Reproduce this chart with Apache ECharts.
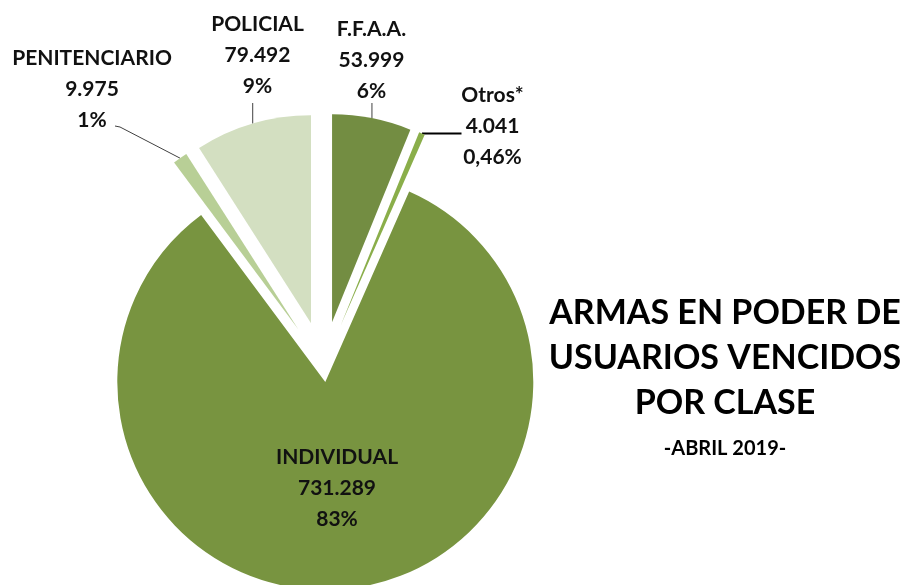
<!DOCTYPE html>
<html>
<head>
<meta charset="utf-8">
<script src="https://cdn.jsdelivr.net/npm/echarts@6/dist/echarts.min.js"></script>
<style>
  html, body { margin: 0; padding: 0; background: #fff; }
  #chart { width: 903px; height: 585px; }
</style>
</head>
<body>
<div id="chart"></div>
<script>
// datos (orden horario desde las 12)
const categories = ['F.F.A.A.', 'Otros*', 'INDIVIDUAL', 'PENITENCIARIO', 'POLICIAL'];
const values = [53999, 4041, 731289, 9975, 79492];
const pctDigits = [0, 2, 0, 0, 0];

// estilo
const sliceColors = ['#738d42', '#8aae4a', '#789440', '#b8cf96', '#d3dfc1'];
const CENTER = [323.5, 366];
const RADIUS = 208;
const BIG_OFFSET = 16;
const SMALL_OFFSET = 44.5;
const labelPos = {
  'F.F.A.A.': [371.5, 60],
  'Otros*': [492.5, 126],
  'INDIVIDUAL': [337, 488],
  'PENITENCIARIO': [92, 89],
  'POLICIAL': [257.5, 55]
};

const total = values.reduce((a, b) => a + b, 0);
const fmtNum = v => String(v).replace(/\B(?=(\d{3})+(?!\d))/g, '.');
const fmtPct = i => (values[i] / total * 100).toFixed(pctDigits[i]).replace('.', ',') + '%';

// angulo medio de cada porcion (grados, horario desde las 12)
const midAngles = [];
let acc = 0;
values.forEach(v => { midAngles.push((acc + v / 2) / total * 360); acc += v; });

function arcMid(i) {
  const a = midAngles[i] * Math.PI / 180;
  const off = categories[i] === 'INDIVIDUAL' ? BIG_OFFSET : SMALL_OFFSET;
  const r = RADIUS + off;
  return [CENTER[0] + r * Math.sin(a), CENTER[1] - r * Math.cos(a)];
}

function leaderPoints(i, lx, ly) {
  const p = arcMid(i);
  const name = categories[i];
  if (name === 'POLICIAL') return [p, [p[0], ly + 48]];
  if (name === 'F.F.A.A.') return [p, [p[0], ly + 43]];
  if (name === 'PENITENCIARIO') return [p, [lx + 28, ly + 38], [lx + 23, ly + 37]];
  if (name === 'Otros*') return [p, [lx - 31, p[1]]];
  return null;
}

function buildData(mode) {
  return categories.map((name, i) => {
    const isBig = name === 'INDIVIDUAL';
    let visible;
    if (mode === 'big') visible = isBig;
    else if (mode === 'small') visible = !isBig;
    else visible = false;
    const item = {
      name: name,
      value: values[i],
      selected: mode !== 'labels' && visible,
      itemStyle: { color: visible ? sliceColors[i] : 'rgba(0,0,0,0)' }
    };
    if (mode === 'labels') {
      item.labelLine = {
        show: !isBig,
        lineStyle: name === 'Otros*' ? { color: '#000', width: 2 } : { color: '#404040', width: 1 }
      };
    }
    return item;
  });
}

const baseSeries = {
  type: 'pie',
  center: CENTER,
  radius: RADIUS,
  startAngle: 90,
  clockwise: true,
  avoidLabelOverlap: false,
  emphasis: { disabled: true, scale: false },
  silent: true,
  label: { show: false },
  labelLine: { show: false }
};

const chart = echarts.init(document.getElementById('chart'));
chart.setOption({
  animation: false,
  title: {
    text: 'ARMAS EN PODER DE\nUSUARIOS VENCIDOS\nPOR CLASE',
    subtext: '-ABRIL 2019-',
    left: 720,
    top: 286,
    textAlign: 'center',
    itemGap: 13,
    textStyle: { fontFamily: 'Lato', fontWeight: 'bold', fontSize: 34, lineHeight: 45, color: '#000' },
    subtextStyle: { fontFamily: 'Lato', fontWeight: 'bold', fontSize: 20, color: '#000' }
  },
  series: [
    Object.assign({}, baseSeries, {
      selectedMode: 'multiple', selectedOffset: BIG_OFFSET, data: buildData('big')
    }),
    Object.assign({}, baseSeries, {
      selectedMode: 'multiple', selectedOffset: SMALL_OFFSET, data: buildData('small')
    }),
    // etiquetas y lineas guia
    Object.assign({}, baseSeries, {
      data: buildData('labels'),
      label: {
        show: true,
        formatter: p => p.name + '\n' + fmtNum(p.value) + '\n' + fmtPct(p.dataIndex),
        color: '#111',
        fontFamily: 'Lato',
        fontWeight: 'bold',
        fontSize: 21,
        lineHeight: 31,
        align: 'center'
      },
      labelLine: { show: true },
      labelLayout: p => {
        const pos = labelPos[categories[p.dataIndex]];
        const out = { x: pos[0], y: pos[1], align: 'center', verticalAlign: 'middle' };
        const pts = leaderPoints(p.dataIndex, pos[0], pos[1]);
        if (pts) out.labelLinePoints = pts;
        return out;
      }
    })
  ]
});
</script>
</body>
</html>
